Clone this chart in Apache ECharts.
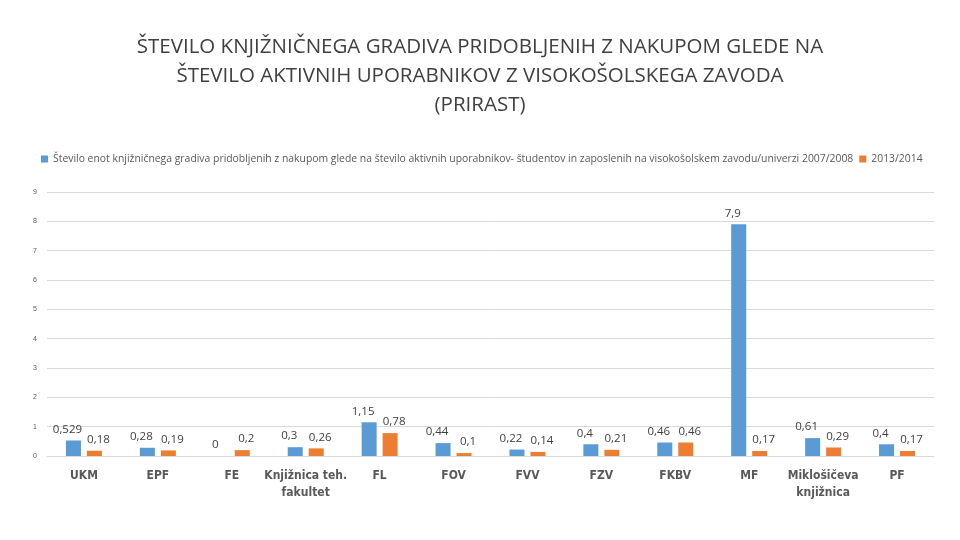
<!DOCTYPE html>
<html><head><meta charset="utf-8">
<script src="https://cdn.jsdelivr.net/npm/echarts@6/dist/echarts.min.js"></script>
<style>html,body{margin:0;padding:0;background:#fff}#c{width:960px;height:540px}</style>
</head><body><div id="c"></div>
<script>
const categories = ['UKM','EPF','FE','Knjižnica teh.\nfakultet','FL','FOV','FVV','FZV','FKBV','MF','Miklošičeva\nknjižnica','PF'];
const seriesNames = ['Število enot knjižničnega gradiva pridobljenih z nakupom glede na število aktivnih uporabnikov- študentov in zaposlenih na visokošolskem zavodu/univerzi 2007/2008','2013/2014'];
const values2007 = [0.529,0.28,0,0.3,1.15,0.44,0.22,0.4,0.46,7.9,0.61,0.4];
const values2013 = [0.18,0.19,0.2,0.26,0.78,0.1,0.14,0.21,0.46,0.17,0.29,0.17];
const yTicks = [0,1,2,3,4,5,6,7,8,9];
const titleText = 'ŠTEVILO KNJIŽNIČNEGA GRADIVA PRIDOBLJENIH Z NAKUPOM GLEDE NA\nŠTEVILO AKTIVNIH UPORABNIKOV Z VISOKOŠOLSKEGA ZAVODA\n(PRIRAST)';

const fmt = v => String(v.value).replace('.', ',');
const chart = echarts.init(document.getElementById('c'));
chart.setOption({
  animation:false,
  title:{text:titleText,left:'center',top:28,textStyle:{fontFamily:'Open Sans',fontSize:20.5,fontWeight:'normal',color:'#404040',lineHeight:29}},
  legend:{top:149,left:36,width:924,itemWidth:7,itemHeight:7,itemGap:6,textStyle:{fontFamily:'Open Sans',fontSize:10.4,color:'#595959'},icon:'rect'},
  grid:{left:47,right:26,top:192,bottom:84},
  xAxis:{type:'category',data:categories,axisTick:{show:false},axisLine:{lineStyle:{color:'#d9d9d9'}},
    axisLabel:{interval:0,fontFamily:'DejaVu Sans Condensed',fontWeight:'bold',fontSize:12,color:'#595959',lineHeight:17,margin:11}},
  yAxis:{type:'value',min:0,max:9,interval:1,axisLine:{show:false},axisTick:{show:false},
    axisLabel:{fontSize:7,color:'#595959',margin:10,formatter:v=>yTicks.includes(v)?String(v):''},
    splitLine:{lineStyle:{color:'#d9d9d9'}}},
  series:[
    {name:seriesNames[0],type:'bar',data:values2007,barWidth:15,barGap:'40%',itemStyle:{color:'#5b9bd5'},
     label:{show:true,position:'top',formatter:fmt,fontFamily:'Open Sans',fontSize:11.5,color:'#404040',offset:[-6,0]}},
    {name:seriesNames[1],type:'bar',data:values2013,barWidth:15,itemStyle:{color:'#ed7d31'},
     label:{show:true,position:'top',formatter:fmt,fontFamily:'Open Sans',fontSize:11.5,color:'#404040',offset:[4,0]}}
  ]
});
</script></body></html>
